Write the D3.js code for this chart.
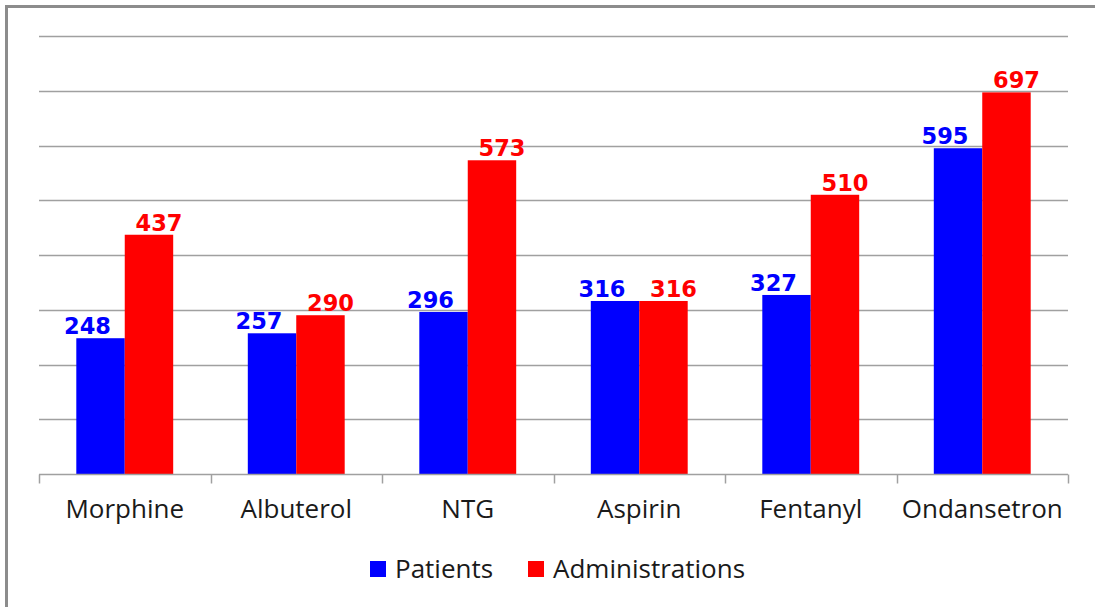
<!DOCTYPE html>
<html>
<head>
<meta charset="utf-8">
<script src="https://cdn.jsdelivr.net/npm/d3@7"></script>
<style>
  html, body { margin: 0; padding: 0; background: #fff; }
  svg { display: block; }
</style>
</head>
<body>
<div id="chart"></div>
<script>
// Medication counts
const drugs = ['Morphine', 'Albuterol', 'NTG', 'Aspirin', 'Fentanyl', 'Ondansetron'];
const patients = [248, 257, 296, 316, 327, 595];
const administrations = [437, 290, 573, 316, 510, 697];
const seriesNames = ['Patients', 'Administrations'];
const seriesColors = ['#0000ff', '#ff0000'];
const yTicks = [0, 100, 200, 300, 400, 500, 600, 700, 800];

const W = 1095, H = 607;
const plot = { left: 39, right: 1068, top: 36, bottom: 474 };
const textFont = 'Open Sans, sans-serif';
const numFont = 'DejaVu Sans, Verdana, sans-serif';

const svg = d3.select('#chart').append('svg')
  .attr('width', W)
  .attr('height', H);

svg.append('rect').attr('width', W).attr('height', H).attr('fill', '#fff');

// outer frame (only top and left edges visible)
svg.append('rect')
  .attr('x', 6.5).attr('y', 6.5)
  .attr('width', W + 20).attr('height', H + 20)
  .attr('fill', 'none')
  .attr('stroke', '#8c8c8c')
  .attr('stroke-width', 3);

const x0 = d3.scaleBand()
  .domain(drugs)
  .range([plot.left, plot.right])
  .paddingInner(0)
  .paddingOuter(0);

const x1 = d3.scaleBand()
  .domain(seriesNames)
  .range([0, x0.bandwidth()])
  .paddingOuter(0.77)
  .paddingInner(0);

const y = d3.scaleLinear()
  .domain([0, 800])
  .range([plot.bottom, plot.top]);

// gridlines
svg.append('g')
  .selectAll('line')
  .data(yTicks.filter(d => d > 0))
  .enter().append('line')
  .attr('x1', plot.left).attr('x2', plot.right)
  .attr('y1', d => Math.round(y(d)) + 0.5)
  .attr('y2', d => Math.round(y(d)) + 0.5)
  .attr('stroke', '#a0a0a0')
  .attr('stroke-width', 1.5);

const rows = drugs.map((d, i) => ({ drug: d, values: [patients[i], administrations[i]] }));

// bars
const groups = svg.append('g')
  .selectAll('g')
  .data(rows)
  .enter().append('g')
  .attr('transform', d => `translate(${x0(d.drug)},0)`);

groups.selectAll('rect')
  .data(d => d.values.map((v, k) => ({ v, k })))
  .enter().append('rect')
  .attr('x', d => x1(seriesNames[d.k]))
  .attr('width', x1.bandwidth())
  .attr('y', d => y(d.v))
  .attr('height', d => y(0) - y(d.v))
  .attr('fill', d => seriesColors[d.k]);

// value labels
const labelShift = [-13, 10];
groups.selectAll('text')
  .data(d => d.values.map((v, k) => ({ v, k })))
  .enter().append('text')
  .attr('x', d => x1(seriesNames[d.k]) + x1.bandwidth() / 2 + labelShift[d.k])
  .attr('y', d => y(d.v) - 4)
  .attr('text-anchor', 'middle')
  .attr('font-family', numFont)
  .attr('font-weight', 'bold')
  .attr('font-size', '22.5px')
  .attr('fill', d => seriesColors[d.k])
  .text(d => d.v);

// x axis
const xAxis = d3.axisBottom(x0).tickSize(0).tickPadding(0);
const axisG = svg.append('g')
  .attr('transform', `translate(0,${plot.bottom + 0.5})`);
axisG.append('line')
  .attr('x1', plot.left).attr('x2', plot.right)
  .attr('stroke', '#a0a0a0').attr('stroke-width', 1.5);
axisG.selectAll('line.tick')
  .data(drugs.map(d => x0(d)).concat([plot.right]))
  .enter().append('line')
  .attr('class', 'tick')
  .attr('x1', d => Math.round(d) + 0.5).attr('x2', d => Math.round(d) + 0.5)
  .attr('y1', 0).attr('y2', 9)
  .attr('stroke', '#a0a0a0').attr('stroke-width', 1.5);

const labels = svg.append('g')
  .attr('transform', `translate(0,${plot.bottom})`)
  .call(xAxis);
labels.select('.domain').remove();
labels.selectAll('text')
  .attr('dy', 0)
  .attr('y', 44)
  .attr('font-family', textFont)
  .attr('font-size', '26px')
  .attr('fill', '#1a1a1a');

// legend
const legend = svg.append('g').attr('transform', 'translate(370,561)');
const legendX = [0, 158];
seriesNames.forEach((name, k) => {
  const g = legend.append('g').attr('transform', `translate(${legendX[k]},0)`);
  g.append('rect').attr('width', 16).attr('height', 16).attr('fill', seriesColors[k]);
  g.append('text')
    .attr('x', 25).attr('y', 17)
    .attr('font-family', textFont)
    .attr('font-size', '26px')
    .attr('fill', '#1a1a1a')
    .text(name);
});
</script>
</body>
</html>
